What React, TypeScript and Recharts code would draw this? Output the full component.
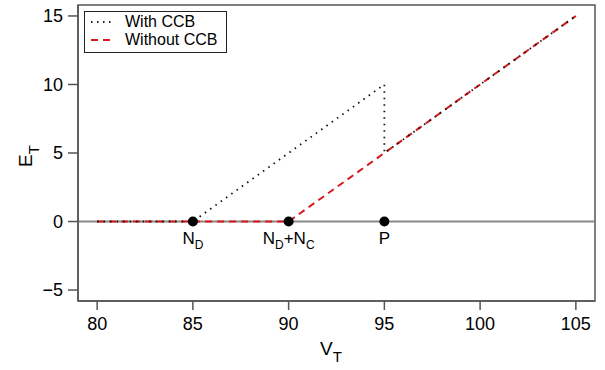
import React from "react";
import {
  ComposedChart,
  Line,
  Scatter,
  XAxis,
  YAxis,
  ReferenceLine,
  ReferenceArea,
  Legend,
} from "recharts";

// values
const withCcb = [
  { x: 80, y: 0 },
  { x: 85, y: 0 },
  { x: 95, y: 10 },
  { x: 95, y: 5 },
  { x: 105, y: 15 },
];

const withoutCcb = [
  { x: 80, y: 0 },
  { x: 90, y: 0 },
  { x: 95, y: 5 },
  { x: 105, y: 15 },
];

// marked points on the zero line, label parts as [main, subscript] pairs
const markers = [
  { x: 85, y: 0, parts: [["N", "D"]] },
  { x: 90, y: 0, parts: [["N", "D"], ["+N", "C"]] },
  { x: 95, y: 0, parts: [["P", ""]] },
];

const xTicks = [80, 85, 90, 95, 100, 105];
const yTicks = [-5, 0, 5, 10, 15];
const xDomain = [79, 106];
const yDomain = [-5.8, 15.8];

const seriesNames = ["With CCB", "Without CCB"];

const FONT = '"Liberation Sans", Arial, Helvetica, sans-serif';
const AXIS = "#555";
const RED = "#d7191c";

const SubText = ({ x, y, parts, size, subRatio = 0.72, shift = 5, rotate }: any) => {
  const sub = Math.round(size * subRatio);
  return (
    <text
      x={x}
      y={y}
      textAnchor="middle"
      fontFamily={FONT}
      fontSize={size}
      fill="#000"
      transform={rotate ? `rotate(${rotate}, ${x}, ${y})` : undefined}
    >
      {parts.map((p: string[], i: number) => (
        <React.Fragment key={i}>
          <tspan dy={i === 0 ? 0 : -shift}>{p[0]}</tspan>
          {p[1] ? (
            <tspan fontSize={sub} dy={shift}>
              {p[1]}
            </tspan>
          ) : null}
        </React.Fragment>
      ))}
    </text>
  );
};

const MarkerShape = (props: any) => {
  const { cx, cy, payload } = props;
  return (
    <g>
      <circle cx={cx} cy={cy} r={5} fill="#000" />
      <SubText x={cx} y={cy + 22} parts={payload.parts} size={17} />
    </g>
  );
};

const LegendBox = () => (
  <div
    style={{
      width: 143,
      height: 42,
      boxSizing: "border-box",
      border: "1px solid #222",
      background: "#fff",
      fontFamily: FONT,
      fontSize: 16,
      color: "#000",
      padding: "1px 0 0 5px",
      lineHeight: "18px",
    }}
  >
    {seriesNames.map((name, i) => (
      <div key={name} style={{ display: "flex", alignItems: "center" }}>
        <svg width={24} height={10} style={{ marginRight: 11 }}>
          <line
            x1={1}
            y1={5}
            x2={24}
            y2={5}
            stroke={i === 0 ? "#222" : RED}
            strokeWidth={i === 0 ? 1.8 : 2}
            strokeDasharray={i === 0 ? "1.5 4.5" : "7 5"}
          />
        </svg>
        <span>{name}</span>
      </div>
    ))}
  </div>
);

export default function App() {
  return (
    <div style={{ position: "absolute", left: 0, top: 0, background: "#fff" }}>
      <ComposedChart
        width={605}
        height={370}
        margin={{ top: 5, right: 10, left: 18, bottom: 9 }}
      >
        <XAxis
          type="number"
          dataKey="x"
          domain={xDomain}
          ticks={xTicks}
          allowDataOverflow
          height={60}
          tickSize={9}
          tickMargin={7}
          stroke={AXIS}
          strokeWidth={1.5}
          tick={{ fill: "#000", fontSize: 18, fontFamily: FONT }}
          label={{
            content: (p: any) => (
              <SubText
                x={p.viewBox.x + 253}
                y={p.viewBox.y + 54}
                parts={[["V", "T"]]}
                size={19}
                subRatio={0.8}
                shift={7}
              />
            ),
          }}
        />
        <YAxis
          type="number"
          domain={yDomain}
          ticks={yTicks}
          allowDataOverflow
          width={60}
          tickSize={10}
          tickMargin={5}
          stroke={AXIS}
          strokeWidth={1.5}
          tickFormatter={(v: number) => (v < 0 ? `\u2212${-v}` : `${v}`)}
          tick={{ fill: "#000", fontSize: 18, fontFamily: FONT }}
          label={{
            content: (p: any) => (
              <SubText
                x={p.viewBox.x + 14}
                y={p.viewBox.y + p.viewBox.height / 2 + 3}
                parts={[["E", "T"]]}
                size={19}
                subRatio={0.8}
                shift={7}
                rotate={-90}
              />
            ),
          }}
        />
        <ReferenceArea
          x1={xDomain[0]}
          x2={xDomain[1]}
          y1={yDomain[0]}
          y2={yDomain[1]}
          fill="none"
          stroke={AXIS}
          strokeWidth={1.5}
        />
        <ReferenceLine y={0} stroke="#888" strokeWidth={2} />
        <Line
          data={withoutCcb}
          dataKey="y"
          name={seriesNames[1]}
          type="linear"
          stroke={RED}
          strokeWidth={2}
          strokeDasharray="7 5"
          dot={false}
          isAnimationActive={false}
        />
        <Line
          data={withCcb}
          dataKey="y"
          name={seriesNames[0]}
          type="linear"
          stroke="#111"
          strokeWidth={1.8}
          strokeDasharray="1.5 5"
          dot={false}
          isAnimationActive={false}
        />
        <Scatter
          data={markers}
          dataKey="y"
          shape={MarkerShape}
          isAnimationActive={false}
        />
        <Legend
          layout="vertical"
          align="center"
          verticalAlign="middle"
          content={() => <LegendBox />}
          wrapperStyle={{ left: 84, top: 11, width: 143 }}
        />
      </ComposedChart>
    </div>
  );
}
